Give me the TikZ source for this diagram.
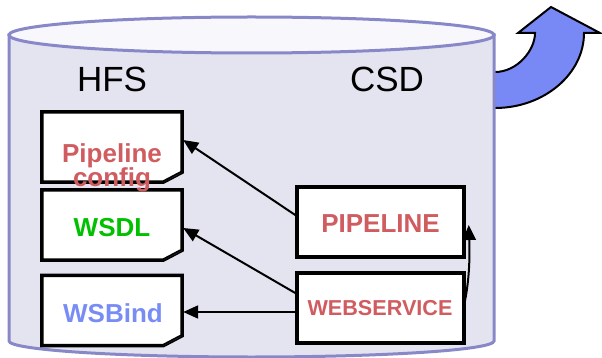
\documentclass[tikz,border=0pt]{standalone}
\usepackage{fontspec}
\setmainfont{Liberation Sans}
\usetikzlibrary{arrows.meta}

\definecolor{cylfill}{RGB}{228,228,240}
\definecolor{cyltop}{RGB}{248,248,252}
\definecolor{cylline}{RGB}{136,136,200}
\definecolor{exportblue}{RGB}{120,136,245}
\definecolor{pipered}{RGB}{208,92,96}
\definecolor{wsgreen}{RGB}{0,192,0}
\definecolor{wsblue}{RGB}{120,140,245}

\tikzset{
  docslot/.style={minimum width=140pt, minimum height=70pt, inner sep=0pt},
  docline/.style={draw=black, fill=white, line width=3.5pt, line join=miter},
  unitbox/.style={draw=black, fill=white, line width=3.5pt,
                  minimum width=167pt, minimum height=70pt, inner sep=0pt},
  biglabel/.style={font=\fontsize{35}{35}\selectfont, inner sep=0pt, anchor=base},
  doclabel/.style={font=\fontsize{26}{26}\selectfont\bfseries, inner sep=0pt, anchor=base},
  link/.style={draw=black, line width=2pt, -{Triangle[length=15pt,width=13pt]}},
}

% dog-eared page drawn around a named slot
\newcommand\docpage[1]{%
  \path[docline] (#1.north west) -- (#1.north east) -- ([yshift=10pt]#1.south east)
    -- ([xshift=-19pt]#1.south east) -- (#1.south west) -- cycle;
  \fill[black!75] ([yshift=10pt]#1.south east) -- ([xshift=-5pt,yshift=7pt]#1.south east)
    -- ([xshift=-19pt]#1.south east) -- cycle;
}

\begin{document}
\begin{tikzpicture}[x=1pt, y=-1pt]
\useasboundingbox (0,0) rectangle (602,358);

% curved export arrow leaving the store
\path[draw=black, fill=exportblue, line width=2pt, line join=miter]
  (490,108) -- (495,108) .. controls (544,108) and (584,74) .. (584,33)
  -- (600,33) -- (551,7) -- (518,33) -- (535,33)
  .. controls (535,50.5) and (517,72) .. (495,72) -- (490,72) -- cycle;

% cylinder store
\path[fill=cylfill, draw=cylline, line width=3pt]
  (9,35) -- (9,341) arc[start angle=180, end angle=360, x radius=242.5pt, y radius=16pt]
  -- (494,35) -- cycle;
\path[fill=cyltop, draw=cylline, line width=3pt]
  (251.5,35) ellipse [x radius=242.5pt, y radius=18pt];

% column headings
\node[biglabel] (hfs) at (112,92) {HFS};
\node[biglabel] (csd) at (387,92) {CSD};

% HFS files
\node[docslot] (cfg) at (112,147) {};
\node[docslot] (wsdl) at (112,225) {};
\node[docslot] (wsb) at (112,310.5) {};
\docpage{cfg}
\docpage{wsdl}
\docpage{wsb}

\node[doclabel, text=pipered] (cfgA) at (112,163) {Pipeline};
\node[doclabel, text=pipered] (cfgB) at (112,187) {config};
\node[doclabel, text=wsgreen] (wsdlt) at (112,236) {WSDL};
\node[doclabel, text=wsblue] (wsbt) at (113,322) {WSBind};

% CSD resources
\node[unitbox] (pipe) at (380.5,222) {};
\node[unitbox] (web) at (380.5,308) {};
\node[doclabel, text=pipered] (pipet) at (380.5,233) {PIPELINE};
\node[doclabel, text=pipered, font=\fontsize{21.6}{21.6}\selectfont\bfseries] (webt) at (380,315) {WEBSERVICE};

% references
\draw[link] ([yshift=7pt]pipe.west) -- ([xshift=1pt,yshift=7pt]cfg.east);
\draw[link] ([yshift=15pt]web.west) -- ([xshift=1pt,yshift=-3pt]wsdl.east);
\draw[link] ([yshift=-4pt]web.west) -- ([xshift=1pt,yshift=-4pt]web.west -| wsb.east);
\draw[link] ([xshift=-1pt,yshift=6pt]web.east) .. controls +(5pt,25pt) and +(1pt,-30pt) .. ([xshift=3pt,yshift=-3pt]pipe.east);
\end{tikzpicture}
\end{document}
